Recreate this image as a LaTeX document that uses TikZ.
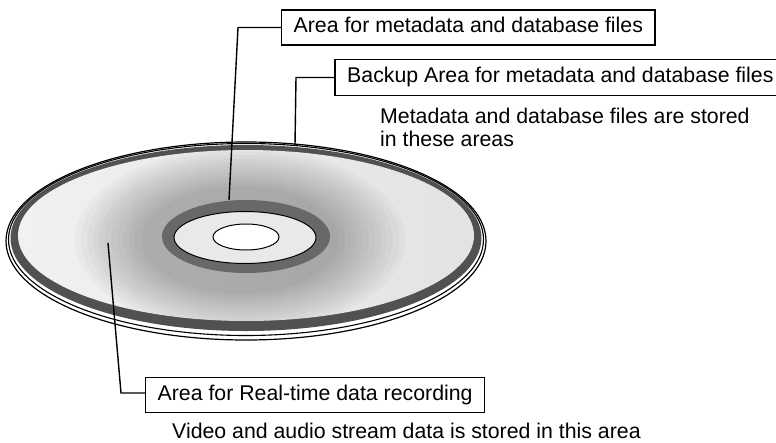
\documentclass[tikz,border=0pt]{standalone}
\usepackage{fontspec}
\setmainfont{Liberation Sans}
\definecolor{rimband}{HTML}{505153}
\definecolor{hubring}{HTML}{67686A}
\definecolor{hubface}{HTML}{E8E9EA}
\definecolor{surfL}{HTML}{F1F1F2}
\definecolor{surfM}{HTML}{A9AAAC}
\definecolor{surfR}{HTML}{E2E3E4}
\begin{document}
\begin{tikzpicture}[x=1pt,y=-1pt,
  labeltext/.style={inner xsep=12pt, inner ysep=0pt,
    minimum height=35pt, text height=15.3pt, text depth=4.5pt,
    font=\fontsize{21.3}{24}\selectfont, anchor=west},
  labelbox/.style={labeltext, draw=black, line width=1.3pt},
  notetext/.style={inner sep=0pt, align=left,
    font=\fontsize{21.3}{23}\selectfont},
  leader/.style={draw=black, line width=1.4pt}]
\useasboundingbox (0,0) rectangle (776,442);

% --- disc: outer edges (showing its thickness below), rim band and surface
\filldraw[fill=white, draw=black, line width=1.2pt]
  (246,241) ellipse [x radius=240pt, y radius=99pt];
\filldraw[fill=white, draw=black, line width=1.1pt]
  (246,239.5) ellipse [x radius=237.5pt, y radius=96pt];
\fill[rimband] (246,238) ellipse [x radius=235.5pt, y radius=93pt];
\shade[left color=surfL, middle color=surfM, right color=surfR]
  (246,235.5) ellipse [x radius=228pt, y radius=85.5pt];
% soft shadow around the hub
\begin{scope}
  \clip (246,235.5) ellipse [x radius=228pt, y radius=85.5pt];
  \foreach \k in {0,...,11}{
    \pgfmathsetmacro{\rx}{165-\k*6}
    \pgfmathsetmacro{\ry}{92-\k*3.5}
    \fill[black, opacity=0.022]
      (240,240) ellipse [x radius=\rx pt, y radius=\ry pt];
  }
\end{scope}

% --- hub: metadata ring, clamping area and centre hole
\fill[hubring] (246,236.5) ellipse [x radius=84pt, y radius=36.5pt];
\filldraw[fill=hubface, draw=black, line width=1pt]
  (245,237.5) ellipse [x radius=71pt, y radius=26pt];
\filldraw[fill=white, draw=black, line width=1pt]
  (246,237) ellipse [x radius=33pt, y radius=13pt];

% --- labels
\node[labelbox] (meta) at (281,27.5) {Area for metadata and database files};
\node[labeltext] (backup) at (335,77.5)
  {Backup Area for metadata and database files};
% this frame runs on past the right edge of the page
\draw[line width=1.3pt] (backup.north west) rectangle ([xshift=30pt]backup.south east);
\node[labelbox] (realtime) at (145,395) {Area for Real-time data recording};
\node[notetext, anchor=north west] (metanote) at (380,108)
  {Metadata and database files are stored\\in these areas};
\node[notetext, anchor=base west] (streamnote) at (172,438.5)
  {Video and audio stream data is stored in this area};

% --- leader lines
\coordinate (hubtop) at (229,200);
\coordinate (bend1) at (238,27.5);
\coordinate (rimtop) at (295,145);
\coordinate (bend2) at (296,77.5);
\coordinate (surf) at (108,243);
\coordinate (bend3) at (121,393);
\draw[leader] (hubtop) -- (bend1) -- (meta.west);
\draw[leader] (rimtop) -- (bend2) -- (backup.west);
\draw[leader] (surf) -- (bend3) -- (bend3 -| realtime.west);
\end{tikzpicture}
\end{document}
